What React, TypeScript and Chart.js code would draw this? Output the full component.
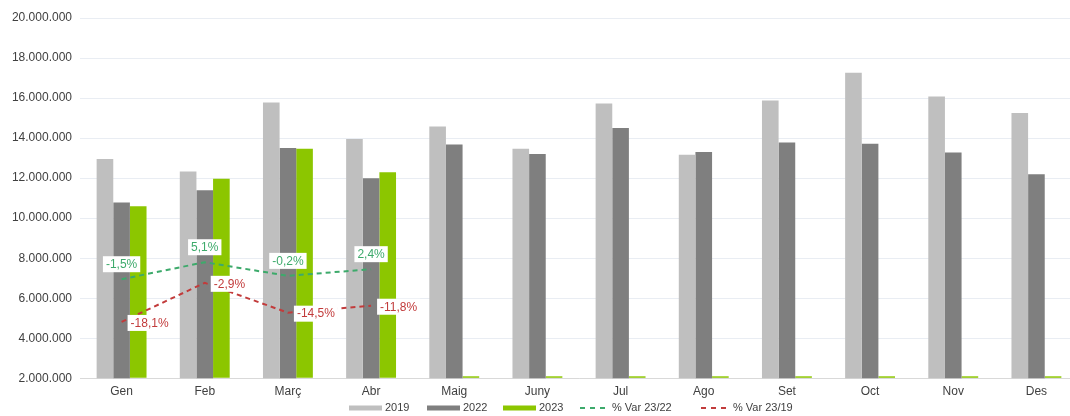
import React, { useEffect, useRef } from 'react';
import { Chart, registerables } from 'chart.js';

Chart.register(...registerables);

const months = ['Gen', 'Feb', 'Març', 'Abr', 'Maig', 'Juny', 'Jul', 'Ago', 'Set', 'Oct', 'Nov', 'Des'];
const v2019 = [12950000, 12330000, 15780000, 13950000, 14580000, 13470000, 15730000, 13170000, 15880000, 17270000, 16080000, 15250000];
const v2022 = [10780000, 11400000, 13500000, 12000000, 13680000, 13200000, 14500000, 13300000, 13780000, 13720000, 13280000, 12200000];
const v2023 = [10600000, 11970000, 13470000, 12300000, 2000000, 2000000, 2000000, 2000000, 2000000, 2000000, 2000000, 2000000];
const var2322 = [-1.5, 5.1, -0.2, 2.4, null, null, null, null, null, null, null, null];
const var2319 = [-18.1, -2.9, -14.5, -11.8, null, null, null, null, null, null, null, null];
const seriesNames = ['2019', '2022', '2023', '% Var 23/22', '% Var 23/19'];

const FONT = '"Liberation Sans", Arial, sans-serif';
const C2019 = '#bfbfbf';
const C2022 = '#7f7f7f';
const C2023 = '#8cc600';
const CGREEN = '#3daa6b';
const CRED = '#c23b3b';

const fmtNum = (v: number) => String(Math.round(v)).replace(/\B(?=(\d{3})+(?!\d))/g, '.');
const fmtPct = (v: number) => v.toFixed(1).replace('.', ',') + '%';

const varLabels = {
  id: 'varLabels',
  afterDatasetsDraw(chart: any) {
    const ctx = chart.ctx;
    ctx.save();
    chart.data.datasets.forEach((ds: any, i: number) => {
      const place = ds.labelPlace;
      if (!place) return;
      const meta = chart.getDatasetMeta(i);
      meta.data.forEach((pt: any, j: number) => {
        const v = ds.data[j];
        if (v == null) return;
        const text = fmtPct(v);
        ctx.font = '12px ' + FONT;
        const w = ctx.measureText(text).width + 6;
        const h = 16;
        let x: number, y: number;
        if (place === 'above') {
          x = pt.x - w / 2;
          y = pt.y - 15 - h / 2;
        } else {
          x = pt.x + 6;
          y = pt.y + 1 - h / 2;
        }
        ctx.fillStyle = '#ffffff';
        ctx.fillRect(x, y, w, h);
        ctx.fillStyle = ds.borderColor;
        ctx.textBaseline = 'middle';
        ctx.textAlign = 'left';
        ctx.fillText(text, x + 3, y + h / 2 + 0.5);
      });
    });
    ctx.restore();
  },
};

const legendStarts = [349, 427, 503, 580, 701];

const customLegend = {
  id: 'customLegend',
  afterDraw(chart: any) {
    const ctx = chart.ctx;
    ctx.save();
    const yc = 408;
    chart.data.datasets.forEach((ds: any, i: number) => {
      const x0 = legendStarts[i];
      let textX: number;
      if (ds.type === 'line') {
        ctx.strokeStyle = ds.borderColor;
        ctx.lineWidth = 2;
        ctx.setLineDash([5, 5]);
        ctx.beginPath();
        ctx.moveTo(x0, yc);
        ctx.lineTo(x0 + 28, yc);
        ctx.stroke();
        ctx.setLineDash([]);
        textX = x0 + 32;
      } else {
        ctx.fillStyle = ds.backgroundColor;
        ctx.fillRect(x0, yc - 2.5, 33, 5);
        textX = x0 + 36;
      }
      ctx.font = '11px ' + FONT;
      ctx.fillStyle = '#404040';
      ctx.textBaseline = 'middle';
      ctx.textAlign = 'left';
      ctx.fillText(ds.label, textX, yc);
    });
    ctx.restore();
  },
};

export default function App() {
  const ref = useRef<HTMLCanvasElement | null>(null);
  useEffect(() => {
    if (!ref.current) return;
    const chart = new Chart(ref.current, {
      type: 'bar',
      data: {
        labels: months,
        datasets: [
          { type: 'bar', label: seriesNames[0], data: v2019, backgroundColor: C2019, order: 1, yAxisID: 'y' } as any,
          { type: 'bar', label: seriesNames[1], data: v2022, backgroundColor: C2022, order: 1, yAxisID: 'y' } as any,
          {
            type: 'bar', label: seriesNames[2], data: v2023, backgroundColor: C2023, order: 1, yAxisID: 'y',
            base: 2000000, minBarLength: 2, clip: false,
          } as any,
          {
            type: 'line', label: seriesNames[3], data: var2322, borderColor: CGREEN, backgroundColor: CGREEN,
            borderDash: [5, 4], borderWidth: 2, pointRadius: 0, tension: 0, order: 0, yAxisID: 'y2', labelPlace: 'above',
          } as any,
          {
            type: 'line', label: seriesNames[4], data: var2319, borderColor: CRED, backgroundColor: CRED,
            borderDash: [5, 4], borderWidth: 2, pointRadius: 0, tension: 0, order: 0, yAxisID: 'y2', labelPlace: 'right',
          } as any,
        ],
      },
      options: {
        responsive: false,
        animation: false,
        devicePixelRatio: 1,
        layout: { padding: { top: 18, right: 2, bottom: 0, left: 0 } },
        datasets: { bar: { categoryPercentage: 0.6, barPercentage: 1 } },
        plugins: { legend: { display: false }, tooltip: { enabled: false } },
        scales: {
          x: {
            grid: { display: false, drawTicks: false },
            border: { display: true, color: '#d9d9d9' },
            ticks: { font: { family: FONT, size: 12 }, color: '#404040', padding: 6 },
            afterFit: (s: any) => { s.height = 37.7; },
          },
          y: {
            min: 2000000,
            max: 20000000,
            grid: { color: '#e9edf3', drawTicks: false },
            border: { display: false },
            ticks: {
              stepSize: 2000000,
              padding: 8,
              font: { family: FONT, size: 12 },
              color: '#404040',
              callback: (v: any) => fmtNum(Number(v)),
            },
            afterFit: (s: any) => { s.width = 80; },
          },
          y2: {
            display: false,
            min: -40,
            max: 100,
          },
        },
      },
      plugins: [varLabels, customLegend],
    });
    return () => chart.destroy();
  }, []);
  return (
    <div style={{ position: 'fixed', left: 0, top: 0, width: 1070, height: 416, overflow: 'hidden', background: '#fff' }}>
      <canvas ref={ref} width={1080} height={416} style={{ display: 'block', width: 1080, height: 416 }} />
    </div>
  );
}
